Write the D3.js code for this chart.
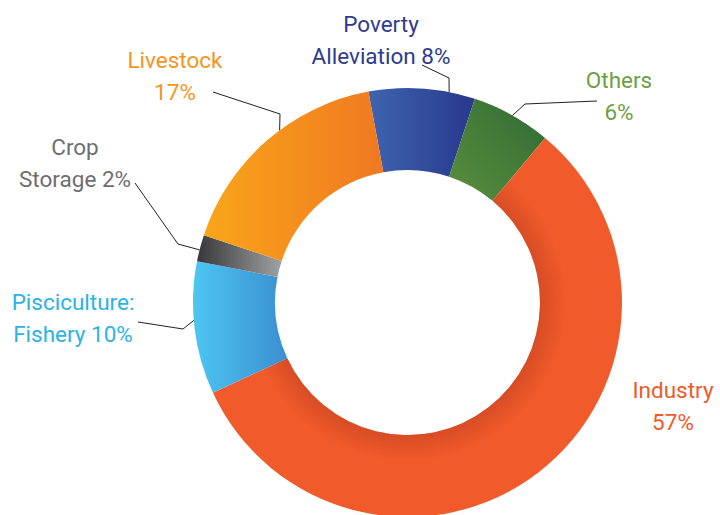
<!DOCTYPE html>
<html>
<head>
<meta charset="utf-8">
<script src="https://cdn.jsdelivr.net/npm/d3@7"></script>
<style>
  html, body { margin: 0; padding: 0; background: #fff; }
  svg { display: block; }
</style>
</head>
<body>
<svg id="chart"></svg>
<script>
// data
const categories = ["Poverty Alleviation", "Others", "Industry", "Pisciculture: Fishery", "Crop Storage", "Livestock"];
const values = [8, 6, 57, 10, 2, 17];
const labelLines = [
  ["Poverty", "Alleviation 8%"],
  ["Others", "6%"],
  ["Industry", "57%"],
  ["Pisciculture:", "Fishery 10%"],
  ["Crop", "Storage 2%"],
  ["Livestock", "17%"]
];

const width = 720, height = 515;
const cx = 407.5, cy = 302.5;
const outerRadius = 214.5, innerRadius = 132.5;
const rad = Math.PI / 180;

// look
const textColors = ["#2e3b8e", "#6d9f43", "#f05a28", "#2bb3e6", "#6d6e71", "#f7941d"];
const gradients = [
  { stops: ["#3e64ae", "#29388e"], dir: [0, 0, 1, 0] },
  { stops: ["#5a8f3d", "#2f6a35"], dir: [0, 1, 1, 0] },
  { stops: ["#f15a2b", "#f15a2b"], dir: [0, 0, 1, 0] },
  { stops: ["#4dc6f2", "#3a8ed0"], dir: [0, 0, 1, 0] },
  { stops: ["#38383a", "#a0a1a3"], dir: [0, 0, 1, 0] },
  { stops: ["#f9a61a", "#f07822"], dir: [0, 0, 1, 0] }
];
// label placement: text anchor, elbow, leader angle offset (deg from slice middle)
const labelPos = [
  { x: 381, y: 32, line: [[422, 65], [449, 78]], off: 7.3 },
  { x: 619, y: 88, line: [[597, 101], [525, 104]], off: 0.2 },
  { x: 673, y: 398, line: null },
  { x: 73, y: 310, line: [[138, 322], [183, 329]], off: 2.1 },
  { x: 75, y: 155, line: [[135, 183], [178, 244]], off: -0.5 },
  { x: 175, y: 68, line: [[213, 92], [280, 114]], off: 4.5 }
];

const svg = d3.select("#chart").attr("width", width).attr("height", height);
const defs = svg.append("defs");

gradients.forEach((g, i) => {
  const lg = defs.append("linearGradient")
    .attr("id", `g${i}`)
    .attr("x1", g.dir[0]).attr("y1", g.dir[1])
    .attr("x2", g.dir[2]).attr("y2", g.dir[3]);
  lg.append("stop").attr("offset", 0).attr("stop-color", g.stops[0]);
  lg.append("stop").attr("offset", 1).attr("stop-color", g.stops[1]);
});

// soft inner shadow on the big slice
const shade = defs.append("radialGradient")
  .attr("id", "shade")
  .attr("gradientUnits", "userSpaceOnUse")
  .attr("cx", 0).attr("cy", 0).attr("r", outerRadius);
shade.append("stop").attr("offset", innerRadius / outerRadius).attr("stop-color", "#a8341a").attr("stop-opacity", 0.35);
shade.append("stop").attr("offset", (innerRadius + 26) / outerRadius).attr("stop-color", "#a8341a").attr("stop-opacity", 0);

const pie = d3.pie().sort(null).value(d => d)
  .startAngle(-10.5 * rad).endAngle(349.5 * rad);
const arcs = pie(values);

const arc = d3.arc().innerRadius(innerRadius).outerRadius(outerRadius);

const g = svg.append("g").attr("transform", `translate(${cx},${cy})`);

g.selectAll("path.slice")
  .data(arcs)
  .join("path")
  .attr("class", "slice")
  .attr("d", arc)
  .attr("fill", (d, i) => `url(#g${i})`);

g.append("path")
  .attr("d", arc(arcs[2]))
  .attr("fill", "url(#shade)");

// leaders
const lines = svg.append("g")
  .attr("fill", "none")
  .attr("stroke", "#231f20")
  .attr("stroke-width", 1);

arcs.forEach((d, i) => {
  const p = labelPos[i];
  if (!p.line) return;
  const a = (d.startAngle + d.endAngle) / 2 + p.off * rad;
  const end = [cx + outerRadius * Math.sin(a), cy - outerRadius * Math.cos(a)];
  lines.append("path").attr("d", d3.line()([...p.line, end]));
});

// labels
const labels = svg.append("g")
  .attr("font-family", "Roboto, 'Open Sans', sans-serif")
  .attr("font-size", 22.5)
  .attr("text-anchor", "middle");

labelLines.forEach((ls, i) => {
  const t = labels.append("text")
    .attr("fill", textColors[i])
    .attr("x", labelPos[i].x)
    .attr("y", labelPos[i].y);
  ls.forEach((s, j) => {
    t.append("tspan").attr("x", labelPos[i].x).attr("dy", j ? 32 : 0).text(s);
  });
});
</script>
</body>
</html>
